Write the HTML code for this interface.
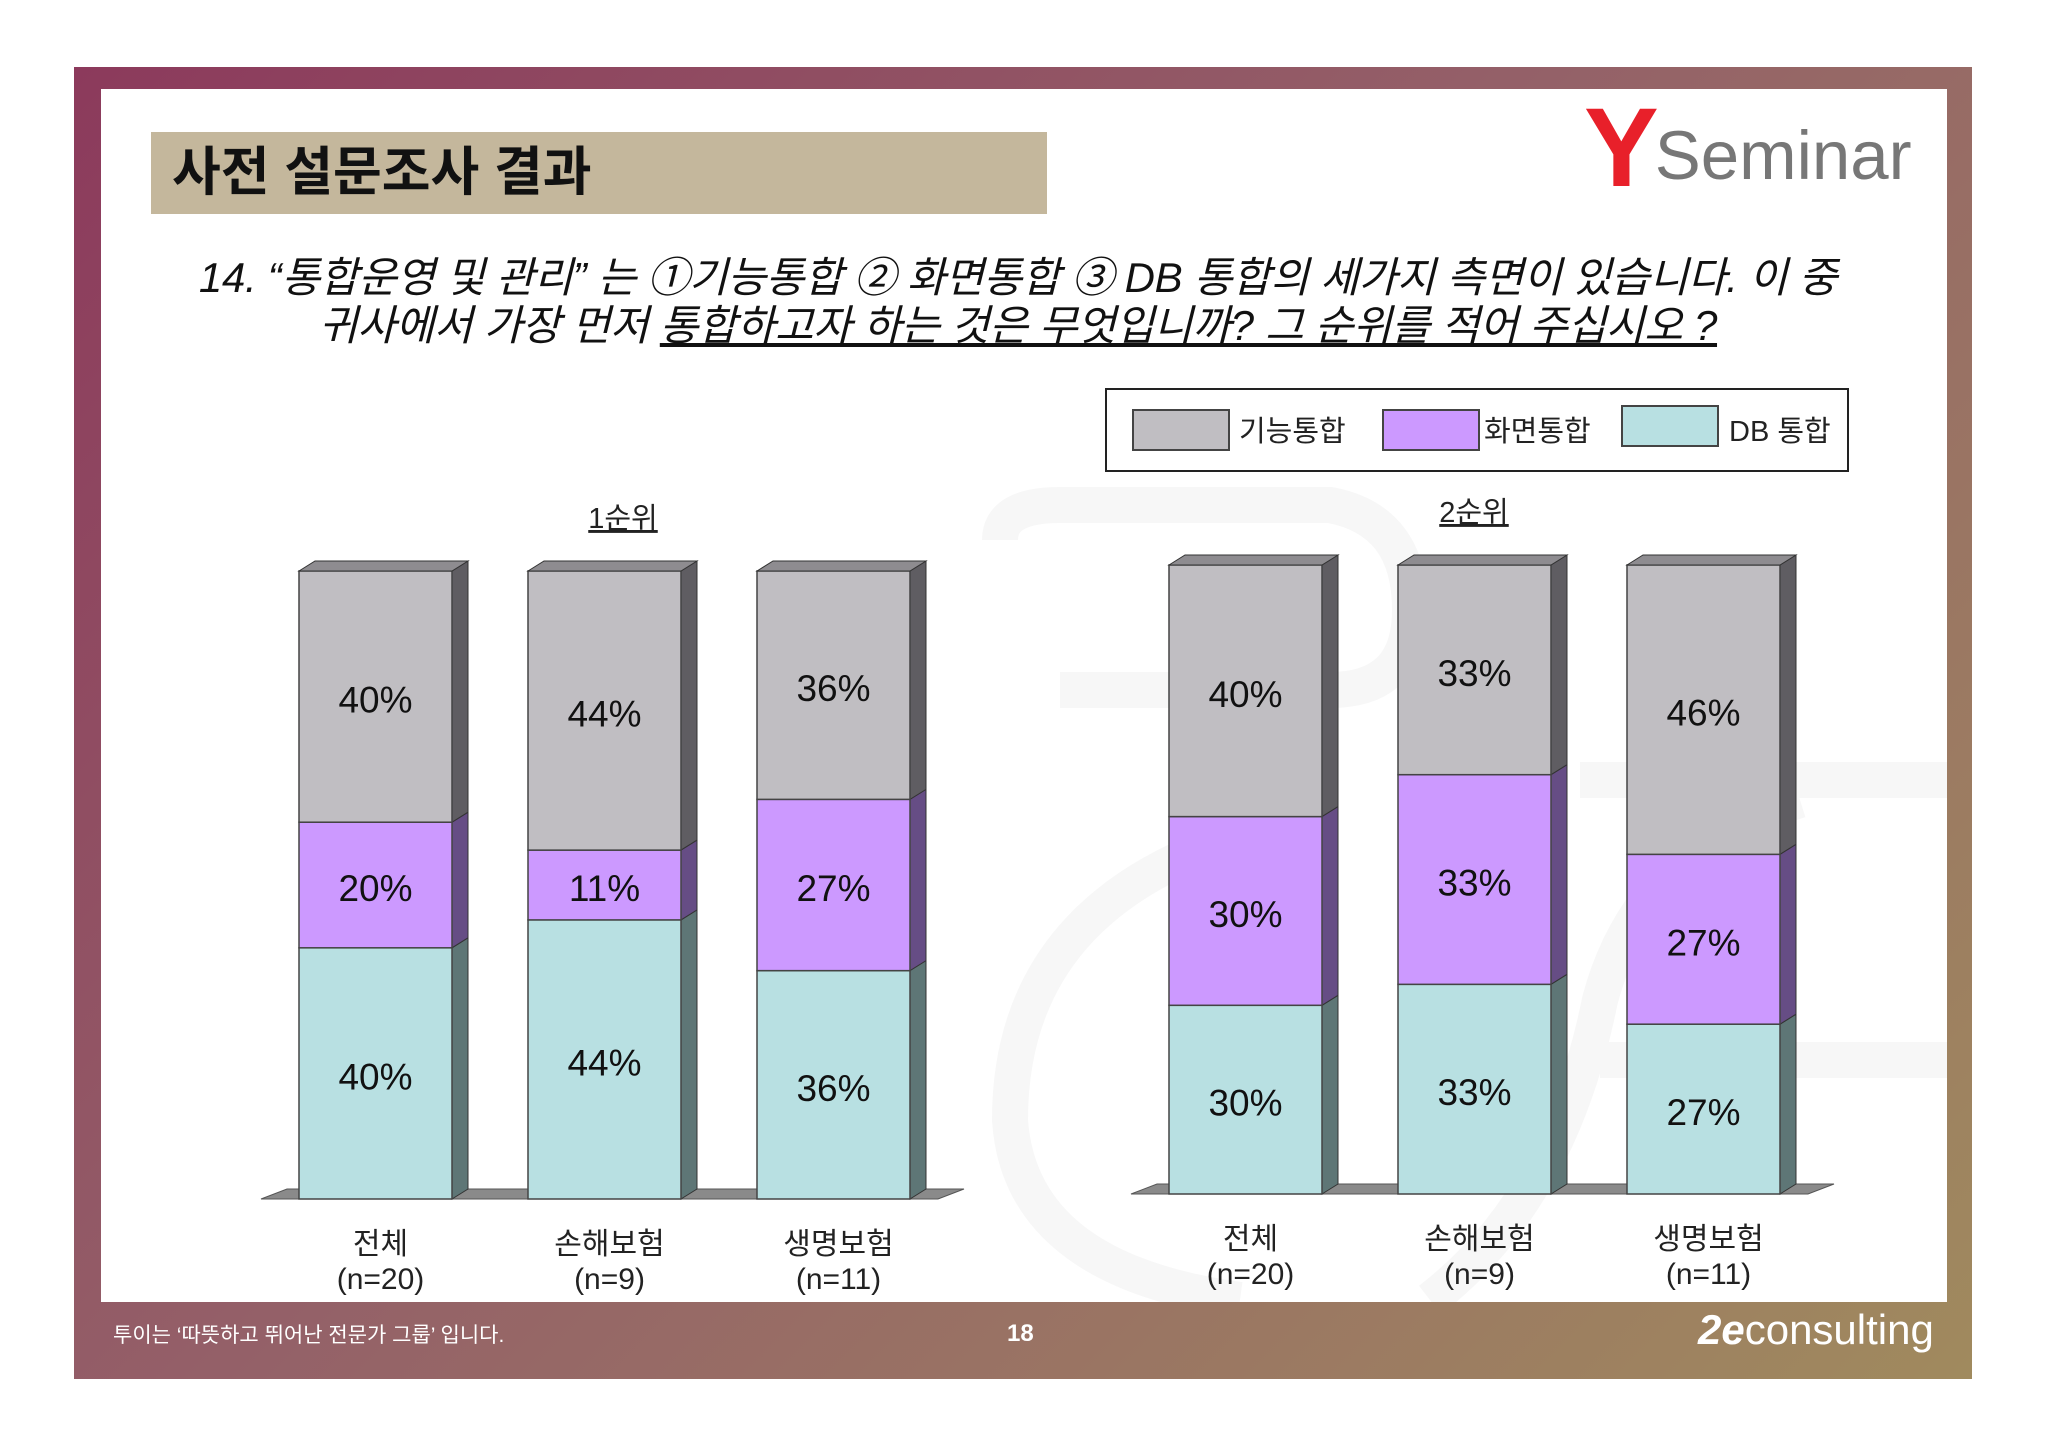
<!DOCTYPE html>
<html><head><meta charset="utf-8">
<style>
html,body{margin:0;padding:0;background:#fff;}
body{width:2048px;height:1447px;position:relative;overflow:hidden;font-family:"Liberation Sans","Noto Sans CJK KR",sans-serif;}
.abs{position:absolute;}
</style></head>
<body>
<div class="abs" style="left:74px;top:67px;width:1898px;height:1312px;background:linear-gradient(135deg,#8c3a5c 0%,#946068 45%,#a08a5e 100%);"></div>
<div class="abs" style="left:101px;top:89px;width:1846px;height:1213px;background:#fff;overflow:hidden;">
<svg class="abs" style="left:-101px;top:-89px" width="2048" height="1447">
  <g fill="none" stroke="#f7f7f7" stroke-width="36">
    <path d="M1000 540 Q1000 505 1060 505 L1330 505 Q1410 520 1410 610 Q1410 690 1330 690 L1060 690"/>
    <path d="M1260 830 Q1010 900 1010 1120 Q1020 1270 1240 1300"/>
    <path d="M1600 1060 L1947 1060 M1580 780 L1947 780"/>
    <path d="M1430 1300 Q1560 1200 1600 1000 Q1640 850 1800 800"/>
  </g>
</svg>
</div>
<div class="abs" style="left:151px;top:132px;width:896px;height:82px;background:#c4b79c;"></div>
<div class="abs" style="left:172px;top:140px;font-size:53px;font-weight:bold;color:#111;line-height:66px;">사전 설문조사 결과</div>
<div class="abs" style="left:1584px;top:98px;height:100px;white-space:nowrap;">
  <span style="font-size:112px;font-weight:bold;color:#e8202a;line-height:100px;vertical-align:top;letter-spacing:-4px;">Y</span><span style="font-size:69px;color:#777;line-height:100px;vertical-align:top;position:relative;top:8px;">Seminar</span>
</div>
<div class="abs" style="left:58px;top:254px;width:1920px;text-align:center;font-size:42px;font-style:italic;line-height:48px;color:#111;letter-spacing:-0.3px;">
14. “통합운영 및 관리” 는 ①기능통합 ② 화면통합 ③ DB 통합의 세가지 측면이 있습니다. 이 중<br>귀사에서 가장 먼저 <span style="text-decoration:underline">통합하고자 하는 것은 무엇입니까? 그 순위를 적어 주십시오 ?</span>
</div>
<div class="abs" style="left:1105px;top:388px;width:740px;height:80px;border:2px solid #222;background:#fff;">
  <div class="abs" style="left:25px;top:19px;width:94px;height:38px;background:#c0bec2;border:2px solid #444;"></div>
  <div class="abs" style="left:132px;top:18px;font-size:29px;color:#222;">기능통합</div>
  <div class="abs" style="left:275px;top:19px;width:94px;height:38px;background:#cc99ff;border:2px solid #444;"></div>
  <div class="abs" style="left:377px;top:18px;font-size:29px;color:#222;">화면통합</div>
  <div class="abs" style="left:514px;top:15px;width:94px;height:38px;background:#b8e0e2;border:2px solid #444;"></div>
  <div class="abs" style="left:622px;top:18px;font-size:29px;color:#222;">DB 통합</div>
</div>
<svg id="chart" class="abs" style="left:0;top:0" width="2048" height="1447"></svg>
<div class="abs" style="left:113px;top:1319px;font-size:21px;color:#fff;">투이는 ‘따뜻하고 뛰어난 전문가 그룹’ 입니다.</div>
<div class="abs" style="left:1007px;top:1320px;font-size:24px;font-weight:bold;color:#fff;">18</div>
<div class="abs" style="left:1698px;top:1306px;font-size:42px;color:#fff;"><b style="font-style:italic">2e</b>consulting</div>
<script>
const groups=["1순위","2순위"];
const categories=["전체","손해보험","생명보험"];
const samples=["(n=20)","(n=9)","(n=11)"];
const g1Function=[40,44,36];
const g1Screen=[20,11,27];
const g1Db=[40,44,36];
const g2Function=[40,33,46];
const g2Screen=[30,33,27];
const g2Db=[30,33,27];
const svg=document.getElementById('chart');
const NS='http://www.w3.org/2000/svg';
function mk(t,a){const e=document.createElementNS(NS,t);for(const k in a)e.setAttribute(k,a[k]);svg.appendChild(e);return e;}
const layouts=[{x0:299,base:1199,top:571,gx:623,floor:[261,964]},{x0:1169,base:1194,top:565,gx:1474,floor:[1131,1834]}];
const bw=153,step=229,dx=16,dy=10;
const fronts=["#c0bec2","#cc99ff","#b8e0e2"],sides=["#5f5d62","#664d85","#5e7676"];
const series=[[g1Db,g1Screen,g1Function],[g2Db,g2Screen,g2Function]];
const fidx=[2,1,0];
layouts.forEach((L,gi)=>{
  const yScale=v=>v/100*(L.base-L.top);
  let fl=mk('polygon',{points:`${L.floor[0]},${L.base} ${L.floor[1]-26},${L.base} ${L.floor[1]},${L.base-dy} ${L.floor[0]+26},${L.base-dy}`,fill:'#8a8a8a',stroke:'#555','stroke-width':1});
  
  
  let gt=mk('text',{x:L.gx,y:L.top-43,'font-size':29,'text-anchor':'middle','text-decoration':'underline',fill:'#222'});
  gt.textContent=groups[gi];
  
  
  categories.forEach((c,ci)=>{
    const x=L.x0+ci*step;
    let total=0;series[gi].forEach(s=>total+=s[ci]);
    let y=L.base;
    series[gi].forEach((s,si)=>{
      const h=yScale(s[ci]/total*100);
      const k=fidx[si];
      let side=mk('polygon',{points:`${x+bw},${y} ${x+bw+dx},${y-dy} ${x+bw+dx},${y-h-dy} ${x+bw},${y-h}`,fill:sides[k],stroke:'#333','stroke-width':1});
      
      
      let r=mk('rect',{x:x,y:y-h,width:bw,height:h,fill:fronts[k],stroke:'#444','stroke-width':1.5});
      
      
      let t=mk('text',{x:x+bw/2,y:y-h/2+16,'font-size':37,'text-anchor':'middle',fill:'#111'});
      t.textContent=s[ci]+'%';
      
      
      y-=h;
    });
    let tp=mk('polygon',{points:`${x},${y} ${x+dx},${y-dy} ${x+bw+dx},${y-dy} ${x+bw},${y}`,fill:'#8e8c90',stroke:'#333','stroke-width':1});
    
    
    let l1=mk('text',{x:x+bw/2+5,y:L.base+55,'font-size':30,'text-anchor':'middle',fill:'#222'});
    l1.textContent=c;
    
    
    let l2=mk('text',{x:x+bw/2+5,y:L.base+90,'font-size':30,'text-anchor':'middle',fill:'#222'});
    l2.textContent=samples[ci];
    
    
  });
});
</script>
</body></html>
